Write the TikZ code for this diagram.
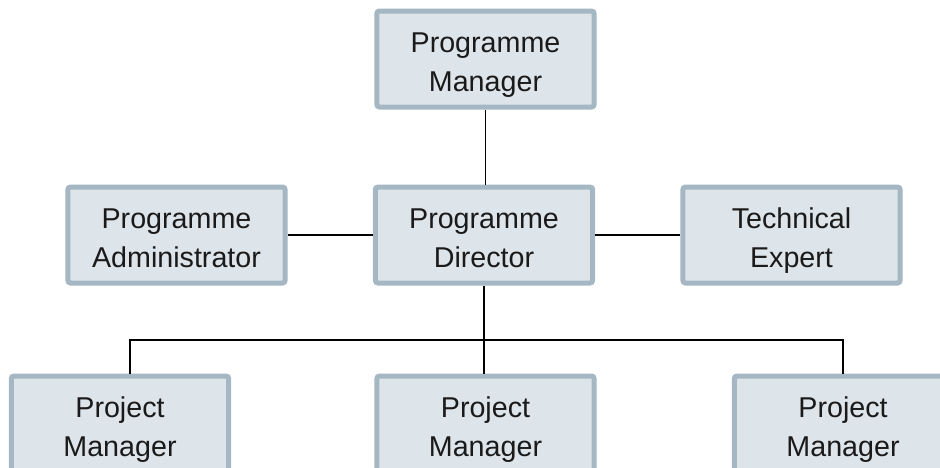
\documentclass[tikz,border=0pt]{standalone}
\usepackage{fontspec}
\setmainfont{Liberation Sans}
\usetikzlibrary{positioning,calc}

\definecolor{boxFill}{HTML}{DDE4EA}
\definecolor{boxLine}{HTML}{A5B7C3}
\definecolor{textGrey}{HTML}{1A1A1A}

\begin{document}
\begin{tikzpicture}[x=0.75pt,y=-0.75pt]

    \tikzstyle{role}=[rectangle, rounded corners=2pt, draw=boxLine, fill=boxFill, line width=3.75pt,
                      minimum width=163pt, minimum height=72pt, align=center, text=textGrey,
                      text height=50pt, text depth=2pt,
                      font=\fontsize{21.5}{29.25}\selectfont]
    \tikzstyle{link}=[draw=black, line width=1.1pt]

    \useasboundingbox (0,0) rectangle (940,468);

    % Rows
    \def \toprow {59}
    \def \midrow {235}
    \def \lowrow {424}

    % Roles
    \node at (485.5, \toprow) [role] (PM)  {Programme\\Manager};
    \node at (176.5, \midrow) [role] (PA)  {Programme\\Administrator};
    \node at (484,   \midrow) [role] (PD)  {Programme\\Director};
    \node at (791.5, \midrow) [role] (TE)  {Technical\\Expert};
    \node at (120,   \lowrow) [role] (PJ1) {Project\\Manager};
    \node at (485.5, \lowrow) [role] (PJ2) {Project\\Manager};
    \node at (843,   \lowrow) [role] (PJ3) {Project\\Manager};

    % Links
    \coordinate (split) at (PD.south |- 0,340);
    \coordinate (drop1) at ($(PJ1.north)+(10,0)$);
    \draw [link] (PM) -- (PD.north -| PM);
    \draw [link] (PA) -- (PD);
    \draw [link] (PD) -- (TE);
    \draw [link] (PD) -- (split);
    \draw [link] (drop1) |- (split) -| (PJ3.north);
    \draw [link] (split) -- (PJ2.north -| split);

\end{tikzpicture}
\end{document}
